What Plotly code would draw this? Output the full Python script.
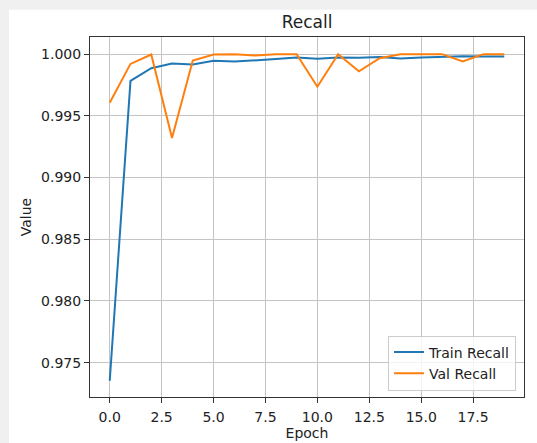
import plotly.graph_objects as go

epochs = list(range(20))
train_recall = [0.97354, 0.99783, 0.99886, 0.99924, 0.99916, 0.99946, 0.99940, 0.99948,
                0.99960, 0.99973, 0.99962, 0.99973, 0.99970, 0.99976, 0.99965, 0.99973,
                0.99980, 0.99984, 0.99980, 0.99980]
val_recall = [0.99606, 0.99921, 0.99997, 0.99321, 0.99948, 0.99997, 1.00000, 0.99989,
              1.00000, 1.00000, 0.99736, 1.00000, 0.99861, 0.99967, 1.00000, 1.00000,
              1.00000, 0.99940, 1.00000, 1.00000]
x_ticks = [0, 2.5, 5, 7.5, 10, 12.5, 15, 17.5]
x_tick_labels = ["0.0", "2.5", "5.0", "7.5", "10.0", "12.5", "15.0", "17.5"]
y_ticks = [0.975, 0.980, 0.985, 0.990, 0.995, 1.000]
y_tick_labels = ["0.975", "0.980", "0.985", "0.990", "0.995", "1.000"]

FONT = "DejaVu Sans"

fig = go.Figure()
fig.add_trace(go.Scatter(x=epochs, y=train_recall, mode="lines", name="Train Recall",
                         line=dict(color="#1f77b4", width=2)))
fig.add_trace(go.Scatter(x=epochs, y=val_recall, mode="lines", name="Val Recall",
                         line=dict(color="#ff7f0e", width=2)))

# white figure area over light-gray page surround
fig.add_shape(type="rect", xref="paper", yref="paper", x0=-0.1866, x1=1.2, y0=-0.3, y1=1.076,
              fillcolor="white", line=dict(width=0), layer="below")

axis_common = dict(showline=True, linecolor="#333333", linewidth=1, mirror=True,
                   ticks="outside", ticklen=5, tickcolor="#333333", tickwidth=1,
                   showgrid=True, gridcolor="#c4c4c4", gridwidth=1, zeroline=False,
                   automargin=False,
                   tickfont=dict(family=FONT, size=14, color="#222222"))

fig.update_layout(
    width=537, height=443,
    paper_bgcolor="#f0f0f0", plot_bgcolor="white",
    margin=dict(l=90, r=13, t=37, b=46, autoexpand=False),
    font=dict(family=FONT, color="#222222"),
    title=dict(text="Recall", x=0.5, xref="paper", xanchor="center",
               y=1, yref="paper", yanchor="bottom", pad=dict(b=9), automargin=False,
               font=dict(family=FONT, size=17, color="#222222")),
    xaxis=dict(range=[-0.95, 19.95], tickvals=x_ticks, ticktext=x_tick_labels,
               title=dict(text="Epoch", standoff=4, font=dict(family=FONT, size=14)),
               ticklabelstandoff=2, **axis_common),
    yaxis=dict(range=[0.97222, 1.00139], tickvals=y_ticks, ticktext=y_tick_labels,
               title=dict(text="Value", standoff=6, font=dict(family=FONT, size=14)),
               ticklabelstandoff=0, **axis_common),
    legend=dict(x=0.9816, xanchor="right", y=0.018, yanchor="bottom",
                bgcolor="rgba(255,255,255,0.8)", bordercolor="#cccccc", borderwidth=1,
                font=dict(family=FONT, size=14, color="#222222"),
                tracegroupgap=0, itemwidth=30),
    showlegend=True,
)

fig.write_html("out.html", config={"displayModeBar": False},
               post_script="document.body.style.margin='0';document.body.style.background='#f0f0f0';")
